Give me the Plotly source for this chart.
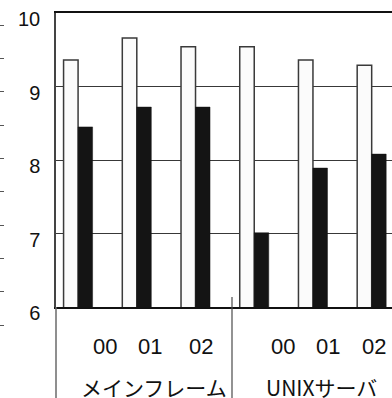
import plotly.graph_objects as go

# --- data -------------------------------------------------------------
group_names = ["メインフレーム", "UNIXサーバ"]
years = ["00", "01", "02"]
groups = [g for g in group_names for _ in years]
periods = years * len(group_names)

white_values = [9.36, 9.66, 9.54, 9.54, 9.36, 9.29]
black_values = [8.45, 8.72, 8.72, 7.01, 7.89, 8.08]

y_ticks = [6, 7, 8, 9, 10]

# --- layout helpers (pixel positions in a 392 x 398 canvas) -----------
W, H = 392, 398
TOP, PLOT_LEFT, AXIS_Y = 13, 56, 307
PAPER_H = H - TOP


def px_x(px):
    return px / W


def px_y(py):
    return (H - py) / PAPER_H


year_label_px = [105, 150, 201, 282.5, 328, 374]
group_label_px = [154, 321]

LATIN = "Liberation Sans, Arial, sans-serif"
CJK = "Noto Sans CJK JP, sans-serif"

fig = go.Figure()

fig.add_trace(go.Bar(
    x=[groups, periods], y=white_values, name="A",
    marker=dict(color="#fbfbfb", line=dict(color="#3a3a3a", width=1.5)),
))
fig.add_trace(go.Bar(
    x=[groups, periods], y=black_values, name="B",
    marker=dict(color="#141414", line=dict(color="#141414", width=0.5)),
))
# empty trace carrying the small tick strip at the far left
fig.add_trace(go.Scatter(x=[None], y=[None], xaxis="x2", yaxis="y2",
                         showlegend=False, hoverinfo="skip"))

annotations = []
for text, xp in zip(periods, year_label_px):
    annotations.append(dict(
        text=text, x=px_x(xp), y=px_y(346), xref="paper", yref="paper",
        showarrow=False, xanchor="center", yanchor="middle",
        font=dict(family=LATIN, size=22, color="#111"),
    ))
for text, xp in zip(group_names, group_label_px):
    annotations.append(dict(
        text=text, x=px_x(xp), y=px_y(387), xref="paper", yref="paper",
        showarrow=False, xanchor="center", yanchor="middle",
        font=dict(family=CJK, size=21, color="#111"),
    ))

shapes = [
    # left edge running down past the axis
    dict(type="line", xref="paper", yref="paper",
         x0=px_x(PLOT_LEFT), x1=px_x(PLOT_LEFT), y0=0, y1=px_y(AXIS_Y),
         line=dict(color="#6a6a6a", width=1.5)),
    # group separator
    dict(type="line", xref="paper", yref="paper",
         x0=px_x(232), x1=px_x(232), y0=0, y1=px_y(297),
         line=dict(color="#4a4a4a", width=1.2)),
]

fig.update_layout(
    width=W, height=H,
    margin=dict(l=0, r=0, t=TOP, b=0, autoexpand=False),
    paper_bgcolor="white", plot_bgcolor="white",
    showlegend=False,
    barmode="group", bargap=0.506, bargroupgap=0,
    xaxis=dict(
        type="multicategory", domain=[px_x(PLOT_LEFT), 1],
        range=[-0.376, 5.346], showticklabels=False, showdividers=False,
        ticks="", showgrid=False, zeroline=False,
        showline=True, linecolor="#111", linewidth=2, mirror=True,
    ),
    yaxis=dict(
        domain=[px_y(AXIS_Y), 1], range=[6, 10],
        tickmode="array", tickvals=y_ticks, ticktext=[str(v) for v in y_ticks],
        ticks="", ticklabelstandoff=10, ticklabelshift=6,
        ticklabeloverflow="allow",
        tickfont=dict(family=LATIN, size=20, color="#111"),
        showgrid=True, gridcolor="#383838", gridwidth=1, zeroline=False,
        showline=True, linecolor="#444", linewidth=1.5, automargin=False,
    ),
    xaxis2=dict(domain=[0, 0.05], visible=False, range=[0, 1]),
    yaxis2=dict(
        anchor="x2", side="left", domain=[px_y(338), 1], range=[60, 385],
        tickmode="linear", tick0=73, dtick=100 / 3,
        ticks="inside", ticklen=4, tickwidth=1, tickcolor="#555",
        showticklabels=False, showgrid=False, zeroline=False, showline=False,
    ),
    annotations=annotations,
    shapes=shapes,
)

fig.write_html("out.html")
